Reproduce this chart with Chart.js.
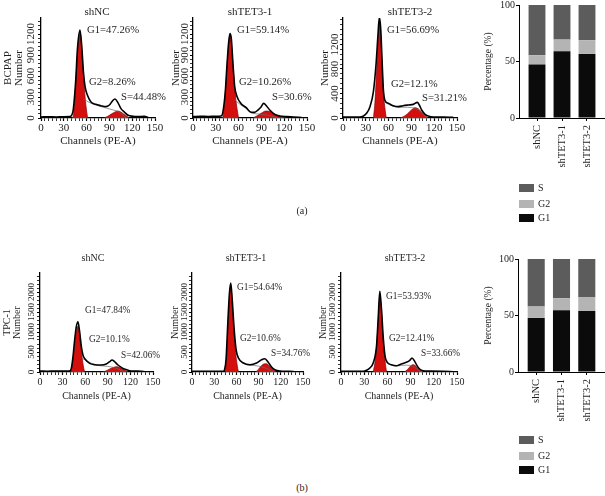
<!DOCTYPE html>
<html><head><meta charset="utf-8">
<script src="https://cdn.jsdelivr.net/npm/chart.js@4.4.1/dist/chart.umd.min.js"></script>
<style>
html,body{margin:0;padding:0;background:#fff}
body{width:605px;height:496px;position:relative;overflow:hidden;font-family:'Liberation Serif','Times New Roman',serif;color:#1e1e1e}
.box{position:absolute}
.ttl{position:absolute;white-space:nowrap;line-height:1;transform:translate(-50%,-50%)}
.ann{position:absolute;white-space:nowrap;line-height:1;transform:translateY(-50%)}
.lg{position:absolute;white-space:nowrap;line-height:1;font-size:10px}
.lg i{position:absolute;left:0;top:-4px;width:15px;height:8px}
.lg span{position:absolute;left:19px;top:-5px}
</style></head><body>
<script>
// ---------------- data ----------------
const barCategories = ['shNC', 'shTET3-1', 'shTET3-2'];
const phaseNames = ['G1', 'G2', 'S'];
// BCPAP percentages
const bcpapG1 = [47.26, 59.14, 56.69];
const bcpapG2 = [8.26, 10.26, 12.1];
const bcpapS  = [44.48, 30.6, 31.21];
// TPC-1 percentages
const tpcG1 = [47.84, 54.64, 53.93];
const tpcG2 = [10.1, 10.6, 12.41];
const tpcS  = [42.06, 34.76, 33.66];
// tick labels
const channelTicks = [0, 30, 60, 90, 120, 150];
const bcpapNumTicksA = [0, 300, 600, 900, 1200];
const bcpapNumTicksB = [0, 400, 800, 1200];
const tpcNumTicks = [0, 500, 1000, 1500, 2000];
const percentTicks = [0, 50, 100];

// histograms: [channel, count]
const bcpapNC_total = [[0,15],[10,18],[20,15],[30,18],[38,20],[42,90],[45.6,520],[48,995],[51.3,1257],[53.5,1042],[55.8,662],[58,447],[61,328],[65.5,233],[72,195],[78.8,176],[85,162],[90,186],[94,243],[97.3,271],[101,224],[105,138],[110,81],[114,43],[121,24],[127,19],[136,24],[141,8]];
const bcpapNC_g1 = [[41,0],[43,60],[45,350],[47,750],[49,1060],[51,1230],[52,1200],[53.5,1000],[55,750],[56.6,520],[58,300],[60,100],[61.5,0]];
const bcpapNC_g2 = [[83,0],[88,25],[93,60],[98,90],[101,100],[105,85],[109,55],[113,25],[116,0]];
const bcpapNC_s = [[56,270],[65,215],[75,175],[85,145],[95,115],[103,85],[108,40],[112,0]];

const bcpapT1_total = [[0,20],[10,25],[20,22],[30,24],[37,28],[39,67],[42.5,376],[44.7,757],[47,1090],[48.7,1209],[50.4,1138],[52.7,757],[54.9,447],[58,305],[63,209],[70,148],[76.5,81],[81,81],[85.4,114],[89.8,162],[93,209],[96.5,176],[101,114],[107.5,52],[114,29],[123,19],[132,14],[143,8]];
const bcpapT1_g1 = [[38,0],[40,50],[42,300],[44,600],[46,930],[48,1160],[49,1190],[50.5,1060],[52,850],[54,540],[56,300],[58,130],[60,0]];
const bcpapT1_g2 = [[79,0],[85,35],[90,70],[96,100],[100,95],[105,70],[110,45],[115,22],[120,8],[123,0]];
const bcpapT1_s = [[55,255],[62,195],[70,135],[78,72],[88,55],[98,40],[106,20],[112,0]];

const bcpapT2_total = [[0,16],[15,16],[22,16],[27,33],[31,76],[35.5,185],[40,429],[43.4,863],[46,1352],[47.8,1640],[49.6,1460],[51.3,972],[53,483],[55,293],[59.6,239],[66,200],[72.8,185],[79,200],[86,212],[92.5,222],[97.8,255],[100.4,212],[103.5,130],[108,60],[112,33],[119,16],[132,16],[145,10]];
const bcpapT2_g1 = [[40,0],[42,250],[44,700],[46,1200],[47.5,1500],[48.5,1540],[50,1250],[52,700],[54,300],[56,80],[57,0]];
const bcpapT2_g2 = [[75,0],[80,25],[85,70],[90,130],[95,168],[99,150],[103,100],[107,50],[110,20],[112,0]];
const bcpapT2_s = [[55,260],[62,210],[70,180],[80,175],[90,170],[97,150],[103,90],[108,30],[111,0]];

const tpcNC_total = [[0,25],[10,20],[20,25],[30,22],[39,25],[41.6,92],[43.8,383],[46,800],[48.2,1133],[50.4,1258],[52.6,1008],[54.9,633],[57,425],[60,317],[66,217],[72.6,183],[81.4,175],[88,200],[92.5,258],[95.6,300],[99,258],[103.5,175],[108,117],[113,67],[119,33],[125.7,25],[134.5,17],[139,8]];
const tpcNC_g1 = [[40.7,0],[43,200],[45.5,550],[47.5,900],[49.5,1120],[50.5,1140],[52,1000],[54,650],[56,350],[58,100],[59.5,0]];
const tpcNC_g2 = [[84,0],[89,40],[94,90],[99,125],[102,133],[106,110],[110,70],[114,30],[117,0]];
const tpcNC_s = [[57,330],[65,250],[75,170],[85,150],[95,125],[103,80],[110,25],[113,0]];

const tpcT1_total = [[0,17],[15,20],[30,17],[42.5,17],[44,60],[46,308],[48.4,1225],[50.6,1975],[52.4,2224],[54.2,1850],[57,1058],[59.6,558],[62.7,350],[69.4,225],[78.4,183],[87.3,225],[94,308],[98.5,333],[103,242],[107.5,125],[112,58],[118.7,25],[132,17],[139,8]];
const tpcT1_g1 = [[44.8,0],[46.5,300],[48.5,1100],[50.5,1800],[52,2080],[53,2050],[55,1500],[57,950],[59,480],[61,180],[62.7,0]];
const tpcT1_g2 = [[86,0],[90,70],[94,160],[98,205],[101,205],[104,160],[108,90],[111,40],[114,0]];
const tpcT1_s = [[60,450],[66,280],[75,175],[85,160],[95,125],[103,70],[108,20],[111,0]];

const tpcT2_total = [[0,17],[15,17],[29,17],[33,42],[37.3,100],[41.6,225],[45.9,641],[48,1308],[50.2,2016],[52.4,1558],[54.5,891],[57,392],[59.7,242],[65.2,183],[71.7,158],[78,200],[84.5,242],[89,292],[91.8,350],[95.3,267],[98.3,158],[101.7,75],[106,33],[114.6,25],[131.8,17],[145,8]];
const tpcT2_g1 = [[41.6,0],[44,250],[46,620],[48,1250],[50,1850],[51,1800],[52.5,1450],[54,950],[56,450],[58,120],[59,0]];
const tpcT2_g2 = [[82,0],[86,60],[90,150],[93,183],[96,160],[99,100],[102,50],[105,15],[106.5,0]];
const tpcT2_s = [[57,330],[62,215],[70,150],[78,165],[85,170],[92,150],[98,80],[103,20],[106,0]];

// ---------------- rendering ----------------
const FONT = "'Liberation Serif','Times New Roman',serif";
Chart.defaults.font.family = FONT;
Chart.defaults.color = '#1e1e1e';

function toXY(p){ return p.map(q => ({x:q[0], y:q[1]})); }
function addText(cls, txt, x, y, size){
  const d = document.createElement('div');
  d.className = cls; d.textContent = txt;
  d.style.left = x + 'px'; d.style.top = y + 'px'; d.style.fontSize = size + 'px';
  document.body.appendChild(d);
}
function canvasBox(l, t, w, h){
  const wrap = document.createElement('div');
  wrap.className = 'box';
  Object.assign(wrap.style, {left:l+'px', top:t+'px', width:w+'px', height:h+'px'});
  const cv = document.createElement('canvas');
  wrap.appendChild(cv); document.body.appendChild(wrap);
  return cv;
}

function makeHisto(c){
  const cv = canvasBox(c.left, c.top, c.w, c.h);
  const xVals = []; for (let v = 0; v <= 150; v += 5) xVals.push(v);
  const yVals = []; for (let v = 0; v <= c.yMax; v += c.yMinor) yVals.push(v);
  const fs = c.fs;
  const lineDs = (d, col, w) => ({data:toXY(d), borderColor:col, borderWidth:w, pointRadius:0, fill:false, cubicInterpolationMode:'monotone'});
  const redDs = d => ({data:toXY(d), borderColor:'#8c0000', borderWidth:0.7, backgroundColor:'#d4100f', fill:'origin', pointRadius:0, cubicInterpolationMode:'monotone'});
  new Chart(cv, {
    type:'line',
    data:{datasets:[
      Object.assign(lineDs(c.total, '#000', 1.6), {label:'Total'}),
      Object.assign(lineDs(c.s, '#6a6a6a', 0.7), {label:'S'}),
      Object.assign(redDs(c.g1), {label:'G1'}),
      Object.assign(redDs(c.g2), {label:'G2'})
    ]},
    options:{
      responsive:true, maintainAspectRatio:false, animation:false, events:[],
      layout:{padding:{top:c.padTop, right:c.padRight, left:0, bottom:0}, autoPadding:false},
      plugins:{legend:{display:false}, tooltip:{enabled:false}, title:{display:false}},
      scales:{
        x:{
          type:'linear', min:0, max:150, offset:false,
          afterBuildTicks: s => { s.ticks = xVals.map(v => ({value:v})); },
          afterFit: s => { s.height = c.xH; s.paddingLeft = 0; s.paddingRight = 0; },
          grid:{drawOnChartArea:false, drawTicks:true, tickLength:3, tickColor:'#000',
                tickWidth: ctx => (ctx.tick && channelTicks.includes(ctx.tick.value)) ? 1.2 : 0.8},
          border:{display:true, color:'#000', width:1.3},
          ticks:{autoSkip:false, minRotation:0, maxRotation:0, padding:1, color:'#1e1e1e',
                 font:{size:fs}, callback: v => channelTicks.includes(v) ? String(v) : ''},
          title:{display:true, text:'Channels (PE-A)', color:'#1e1e1e', font:{size:fs}, padding:{top:0, bottom:0}}
        },
        y:{
          type:'linear', min:0, max:c.yMax,
          afterBuildTicks: s => { s.ticks = yVals.map(v => ({value:v})); },
          afterFit: s => { s.width = c.yW; s.paddingTop = 0; s.paddingBottom = 0; },
          grid:{drawOnChartArea:false, drawTicks:true, tickLength:3, tickColor:'#000',
                tickWidth: ctx => (ctx.tick && c.majors.includes(ctx.tick.value)) ? 1.2 : 0.8},
          border:{display:true, color:'#000', width:1.3},
          ticks:{autoSkip:false, minRotation:90, maxRotation:90, crossAlign:'center', padding:c.tickPad,
                 color:'#1e1e1e', font:{size:c.yFs}, callback: v => c.majors.includes(v) ? String(v) : ''},
          title:{display:true, text:c.yTitle, color:'#1e1e1e', font:{size:fs, lineHeight:1.0}, padding:{top:c.titlePad, bottom:0}}
        }
      }
    }
  });
  addText('ttl', c.name, c.nameXY[0], c.nameXY[1], fs);
  addText('ann', 'G1=' + c.pct[0] + '%', c.ann[0][0], c.ann[0][1], c.annFs);
  addText('ann', 'G2=' + c.pct[1] + '%', c.ann[1][0], c.ann[1][1], c.annFs);
  addText('ann', 'S=' + c.pct[2] + '%', c.ann[2][0], c.ann[2][1], c.annFs);
}

function makeBars(c){
  const cv = canvasBox(c.left, c.top, c.w, c.h);
  const colors = {G1:'#0b0b0b', G2:'#b4b4b4', S:'#5c5c5c'};
  const series = {G1:c.g1, G2:c.g2, S:c.s};
  const datasets = phaseNames.map(n => ({label:n, data:series[n].map((v, i) => ({x:i, y:v})),
    backgroundColor:colors[n], borderWidth:0, barPercentage:0.75, categoryPercentage:0.9}));
  new Chart(cv, {
    type:'bar',
    data:{datasets},
    options:{
      responsive:true, maintainAspectRatio:false, animation:false, events:[],
      layout:{padding:{top:c.padTop, right:0, left:0, bottom:0}, autoPadding:false},
      plugins:{legend:{display:false}, tooltip:{enabled:false}},
      scales:{
        x:{
          type:'linear', min:-0.72, max:2.72, stacked:true, offset:false, bounds:'data',
          afterBuildTicks: s => { s.ticks = barCategories.map((n, i) => ({value:i})); },
          afterFit: s => { s.height = c.xH; s.paddingLeft = 0; s.paddingRight = 0; },
          grid:{drawOnChartArea:false, offset:false, tickLength:3, tickColor:'#000', tickWidth:1},
          border:{display:true, color:'#000', width:1},
          ticks:{autoSkip:false, minRotation:90, maxRotation:90, padding:4, color:'#1e1e1e',
                 font:{size:10.5}, callback: v => barCategories[v]}
        },
        y:{
          min:0, max:100, stacked:true,
          afterBuildTicks: s => { s.ticks = percentTicks.map(v => ({value:v})); },
          afterFit: s => { s.width = c.yW; s.paddingTop = 0; s.paddingBottom = 0; },
          grid:{drawOnChartArea:false, tickLength:3, tickColor:'#000', tickWidth:1},
          border:{display:true, color:'#000', width:1},
          ticks:{padding:1, color:'#1e1e1e', font:{size:10}},
          title:{display:true, text:'Percentage (%)', color:'#1e1e1e', font:{size:9.5, lineHeight:1.2}, padding:{top:c.titlePad, bottom:0}}
        }
      }
    }
  });
  // legend (reverse order: S, G2, G1)
  phaseNames.slice().reverse().forEach((n, k) => {
    const d = document.createElement('div');
    d.className = 'lg';
    d.style.left = c.legX + 'px'; d.style.top = c.legY[k] + 'px';
    d.innerHTML = '<i style="background:' + colors[n] + '"></i><span>' + n + '</span>';
    document.body.appendChild(d);
  });
}

// ---- row (a): BCPAP ----
const rowA = {top:0, h:148, xH:30, padTop:18, padRight:10, fs:11, yFs:11, annFs:10.7};
makeHisto(Object.assign({}, rowA, {left:0, w:165, yW:41, yMax:1430, yMinor:60, majors:bcpapNumTicksA,
  yTitle:['BCPAP','Number'], titlePad:2.5, tickPad:-4, total:bcpapNC_total, g1:bcpapNC_g1, g2:bcpapNC_g2, s:bcpapNC_s,
  name:barCategories[0], nameXY:[97,11], pct:[bcpapG1[0], bcpapG2[0], bcpapS[0]], ann:[[87,29],[89,81],[121,96]]}));
makeHisto(Object.assign({}, rowA, {left:165, w:152, yW:28, yMax:1430, yMinor:60, majors:bcpapNumTicksA,
  yTitle:'Number', titlePad:5.5, tickPad:-6, total:bcpapT1_total, g1:bcpapT1_g1, g2:bcpapT1_g2, s:bcpapT1_s,
  name:barCategories[1], nameXY:[250,11], pct:[bcpapG1[1], bcpapG2[1], bcpapS[1]], ann:[[237,29],[239,81],[272,96]]}));
makeHisto(Object.assign({}, rowA, {left:317, w:150, yW:26, yMax:1630, yMinor:80, majors:bcpapNumTicksB,
  yTitle:'Number', titlePad:2.5, tickPad:-6, total:bcpapT2_total, g1:bcpapT2_g1, g2:bcpapT2_g2, s:bcpapT2_s,
  name:barCategories[2], nameXY:[410,11], pct:[bcpapG1[2], bcpapG2[2], bcpapS[2]], ann:[[387,29],[391,83],[422,97]]}));
makeBars({left:470, top:0, w:135, h:173, yW:49, xH:55, padTop:5, titlePad:13,
  g1:bcpapG1, g2:bcpapG2, s:bcpapS, legX:519, legY:[188,204,218]});

// ---- row (b): TPC-1 ----
const rowB = {top:240, h:162, xH:30, padTop:33, padRight:10, fs:10, yFs:9, annFs:9.3};
makeHisto(Object.assign({}, rowB, {left:0, w:163, yW:40, yMax:2475, yMinor:100, majors:tpcNumTicks,
  yTitle:['TPC-1','Number'], titlePad:2, tickPad:-4, total:tpcNC_total, g1:tpcNC_g1, g2:tpcNC_g2, s:tpcNC_s,
  name:barCategories[0], nameXY:[93,258], pct:[tpcG1[0], tpcG2[0], tpcS[0]], ann:[[85,311],[89,340],[121,356]]}));
makeHisto(Object.assign({}, rowB, {left:163, w:150, yW:29, yMax:2475, yMinor:100, majors:tpcNumTicks,
  yTitle:'Number', titlePad:7, tickPad:-5, total:tpcT1_total, g1:tpcT1_g1, g2:tpcT1_g2, s:tpcT1_s,
  name:barCategories[1], nameXY:[246,258], pct:[tpcG1[1], tpcG2[1], tpcS[1]], ann:[[237,288],[240,339],[271,354]]}));
makeHisto(Object.assign({}, rowB, {left:313, w:154, yW:28, yMax:2475, yMinor:100, majors:tpcNumTicks,
  yTitle:'Number', titlePad:5, tickPad:-4, total:tpcT2_total, g1:tpcT2_g1, g2:tpcT2_g2, s:tpcT2_s,
  name:barCategories[2], nameXY:[405,258], pct:[tpcG1[2], tpcG2[2], tpcS[2]], ann:[[386,297],[389,339],[421,354]]}));
makeBars({left:470, top:240, w:135, h:187, yW:48, xH:55, padTop:19, titlePad:13,
  g1:tpcG1, g2:tpcG2, s:tpcS, legX:519, legY:[440,456,470]});

addText('ttl', '(a)', 302, 211, 10);
addText('ttl', '(b)', 302, 488, 10);
</script>
</body></html>
